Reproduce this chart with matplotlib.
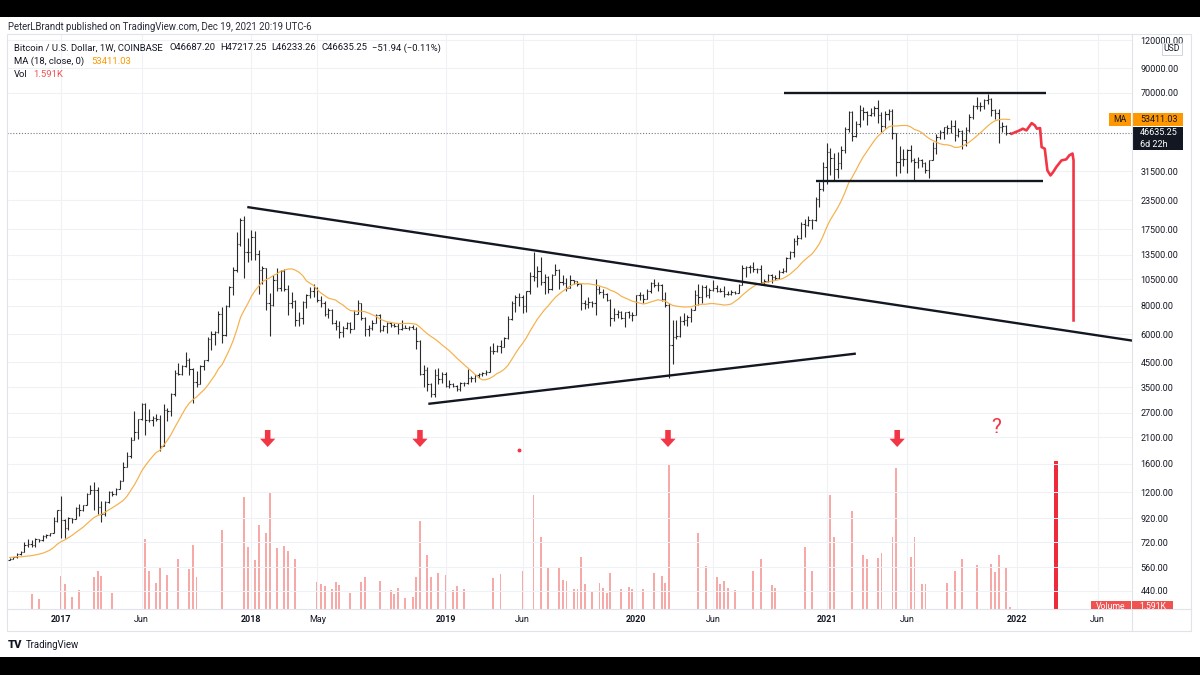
import numpy as np
import pandas as pd
import matplotlib
matplotlib.use("Agg")
import matplotlib.pyplot as plt
import matplotlib.dates as mdates
from matplotlib.patches import Rectangle
from matplotlib.ticker import FixedLocator, FuncFormatter, NullLocator

plt.rcParams['font.family'] = ['Roboto', 'DejaVu Sans']

# ------------------------------------------------------------------ data
# Weekly BTC/USD (Coinbase) bars, first bar = week of 2016-09-26 (Monday open)
first_week = '2016-09-26'
# 17 weekly closes before the first visible bar (for MA 18 warm-up)
warmup_close = [575, 580, 690, 640, 665, 650, 660, 655, 650, 600, 590, 575,
                575, 575, 605, 605, 603]

close = [
    # 2016 Q4
    610, 617, 640, 655, 700, 705, 700, 745, 735, 765, 775, 790, 895, 1000,
    # 2017
    905, 830, 920, 915, 1020, 1000, 1050, 1180, 1230, 1225,
    1030, 965, 1090, 1200, 1180, 1240, 1350, 1550, 1730, 2050,
    2210, 2520, 2950, 2510, 2500, 2550, 2520, 1930, 2760, 2740,
    3250, 4050, 4000, 4350, 4600, 4200, 3700, 3600, 4360, 4600,
    5700, 6000, 6150, 7400, 5950, 8000, 9750, 11500, 15000, 19100,
    13900, 13800,
    # 2018
    16200, 13600, 11550, 11750, 8200, 8100, 10400, 9600, 11400, 9550,
    8200, 8450, 6950, 7050, 8300, 8900, 9350, 9650, 8500, 8250,
    7350, 7650, 6700, 6550, 6150, 6380, 6700, 6350, 7400, 8200,
    7050, 6300, 6400, 6700, 7300, 6250, 6500, 6700, 6600, 6550,
    6300, 6400, 6380, 6450, 6350, 5600, 4000, 4150, 3600, 3250,
    3950, 3800, 4000,
    # 2019
    3550, 3600, 3550, 3420, 3650, 3640, 3830, 3850, 3950, 4000,
    4020, 4100, 5050, 5030, 5300, 5250, 5750, 7000, 8200, 8750,
    8800, 8000, 9300, 10800, 10750, 11450, 10200, 10750, 9500, 11000,
    11500, 10200, 10100, 9600, 10400, 10300, 10000, 8200, 8150, 8300,
    8200, 9550, 9200, 9050, 8500, 7100, 7400, 7500, 7100, 7500,
    7320, 7300,
    # 2020
    8900, 8950, 8600, 9350, 10150, 9900, 9950, 8550, 8050, 5350,
    5850, 5900, 6850, 6900, 7150, 7700, 8900, 8720, 9700, 8900,
    9450, 9650, 9350, 9300, 9000, 8990, 9250, 9160, 9950, 11800,
    11900, 11950, 11650, 11700, 10250, 10300, 10950, 10700, 10650, 11350,
    11400, 13100, 13800, 15500, 16050, 18400, 18200, 19150, 19100, 23800,
    26250, 33000,
    # 2021
    38200, 36000, 32300, 34300, 39200, 48600, 57500, 45200, 51200, 59000,
    57500, 55800, 57000, 60000, 56200, 50100, 56600, 58200, 46400, 34700,
    35700, 35800, 39000, 35500, 34700, 35300, 34250, 31800, 35400, 39800,
    44600, 47000, 49300, 48800, 49900, 45700, 47300, 43300, 48200, 54900,
    61500, 61000, 61300, 64900, 65500, 59000, 57300, 49400, 50100, 46687.20,
    46635.25,
]

high = [
    612, 620, 645, 660, 720, 745, 740, 750, 745, 775, 780, 795, 935, 1005,
    1150, 910, 930, 925, 1030, 1060, 1055, 1195, 1290, 1330,
    1260, 1100, 1100, 1215, 1220, 1250, 1365, 1640, 1800, 2100,
    2750, 2540, 2980, 2980, 2800, 2600, 2660, 2640, 2950, 2820,
    3290, 4150, 4480, 4400, 4980, 4700, 4250, 4120, 4400, 4620,
    5850, 6180, 6200, 7600, 7900, 8100, 9800, 11850, 17000, 19500,
    19900, 16000,
    17250, 17200, 14100, 12000, 11800, 9100, 10950, 11800, 11500, 11700,
    9950, 9200, 8500, 7500, 8450, 9050, 9750, 9990, 9700, 8850,
    8400, 7800, 7750, 6900, 6850, 6500, 6800, 6800, 7700, 8500,
    8250, 7150, 6600, 6900, 7400, 7400, 6600, 6800, 6800, 6750,
    6700, 6950, 6600, 6500, 6600, 6450, 5650, 4400, 4300, 3650,
    4200, 4250, 4100,
    4100, 3750, 3650, 3570, 3700, 3700, 4200, 3900, 3990, 4020,
    4100, 4150, 5300, 5470, 5400, 5650, 5800, 7250, 8400, 8900,
    9100, 8900, 9350, 11300, 13850, 12000, 13200, 11100, 10800, 11100,
    12300, 11700, 10950, 10600, 10950, 10450, 10350, 10050, 8500, 8750,
    8450, 10500, 9800, 9500, 9100, 8550, 7870, 7650, 7600, 7550,
    7600, 7550,
    8950, 9190, 9000, 9550, 10200, 10500, 10200, 10000, 9200, 8200,
    6950, 6900, 7200, 7450, 7300, 7800, 9450, 10050, 9950, 9850,
    9600, 10400, 9950, 9600, 9800, 9300, 9450, 9280, 10000, 12100,
    12000, 12100, 12480, 11800, 12090, 10500, 11100, 11050, 10950, 11500,
    11750, 13200, 14000, 15950, 16500, 18800, 19480, 19900, 19450, 24300,
    28400, 34800,
    41900, 40100, 37900, 38500, 40900, 49700, 58300, 58000, 52600, 61800,
    60800, 58400, 60200, 61200, 64900, 57600, 58000, 59300, 59500, 46700,
    40800, 39500, 39500, 41300, 36000, 36600, 35900, 34600, 35500, 42300,
    46200, 48100, 49400, 50500, 52900, 52900, 48800, 48000, 49300, 56600,
    62000, 67000, 63700, 65600, 69000, 66300, 59500, 59200, 51900, 50700,
    47217.25,
]

low = [
    600, 605, 614, 630, 650, 685, 690, 690, 725, 730, 755, 770, 790, 890,
    750, 755, 820, 880, 910, 940, 990, 1050, 1175, 1000,
    960, 890, 940, 1080, 1160, 1170, 1240, 1350, 1550, 1700,
    2050, 2070, 2500, 2150, 2450, 2350, 2470, 1830, 1930, 2480,
    2620, 3200, 3950, 3950, 4300, 3970, 2980, 3520, 3600, 4150,
    4550, 5100, 5400, 6100, 5500, 5900, 7900, 8900, 11300, 14800,
    10600, 12500,
    12800, 12800, 9000, 10000, 7700, 5900, 8000, 9300, 9350, 9300,
    7300, 7800, 6550, 6550, 6650, 7850, 8650, 8800, 8350, 7950,
    7250, 7050, 6650, 6250, 5750, 5800, 6300, 6050, 6300, 7400,
    6900, 5900, 5880, 6250, 6700, 6150, 6200, 6100, 6450, 6480,
    6000, 6250, 6360, 6230, 6300, 5150, 3950, 3500, 3350, 3150,
    3150, 3600, 3650,
    3500, 3480, 3500, 3350, 3360, 3550, 3620, 3700, 3680, 3820,
    3920, 3950, 4100, 4920, 5000, 4950, 5250, 5700, 6950, 7500,
    8000, 7450, 7500, 9000, 10300, 9700, 9900, 9050, 9100, 9400,
    11000, 9500, 9850, 9350, 9600, 10000, 9800, 7700, 7750, 7850,
    7900, 7300, 9000, 8700, 8400, 6550, 6850, 7080, 7000, 6450,
    7050, 6850,
    7300, 8500, 8250, 8550, 9150, 9700, 9300, 8450, 7900, 3850,
    4450, 5700, 5850, 6600, 6500, 6800, 7700, 8100, 8200, 8800,
    8650, 9300, 9200, 9200, 8800, 8900, 8950, 9050, 9150, 9950,
    10700, 11200, 11350, 11150, 9900, 9900, 10250, 10150, 10400, 10550,
    11200, 11350, 12900, 13200, 14850, 15800, 16200, 18100, 17600, 19000,
    21850, 25900,
    27700, 30400, 28800, 29300, 32300, 37900, 47000, 43000, 44900, 49300,
    53200, 50400, 55200, 55400, 51600, 47000, 48800, 53200, 43900, 30000,
    31100, 33400, 31000, 34800, 28800, 32700, 32800, 31050, 29300, 35200,
    37700, 43800, 43900, 46300, 46600, 42800, 44800, 39600, 40800, 47100,
    53900, 59500, 58000, 59500, 62300, 55600, 53500, 42000, 46800, 45500,
    46233.26,
]

ma_length = 18
ma_value = 53411.03
vol_label = '1.591K'

# Visible (down-week) volume bars: week index into the bar list, volume in K
vol_week_index = [6, 8, 14, 15, 17, 19, 23, 24, 25, 28, 37, 38, 40, 41, 43, 46,
                  49, 50, 51, 58, 64, 65, 67, 68, 70, 71, 73, 75, 76, 78, 84, 85,
                  86, 88, 89, 90, 93, 96, 97, 101, 104, 105, 106, 108, 110, 111,
                  112, 114, 115, 117, 119, 121, 122, 124, 132, 134, 140, 143, 145,
                  147, 150, 151, 152, 154, 155, 156, 157, 159, 161, 162, 163, 164,
                  167, 169, 170, 173, 176, 178, 179, 180, 188, 190, 193, 194, 195,
                  196, 198, 203, 205, 208, 209, 217, 219, 224, 225, 230, 233, 234,
                  237, 238, 241, 242, 246, 247, 249, 250, 256, 258, 260, 264, 268,
                  269, 270, 272, 273]
vol_k = [11.4, 7.6, 26.0, 19.6, 9.2, 14.8, 25.2, 30.0, 26.0, 12.4, 55.6, 30.0,
         20.4, 33.2, 26.8, 39.6, 31.6, 50.8, 25.2, 62.8, 89.2, 49.2, 38.8, 66.8,
         60.4, 92.4, 48.4, 50.0, 46.0, 39.6, 21.2, 19.6, 18.0, 15.6, 21.2, 18.8,
         12.4, 21.2, 25.2, 22.0, 14.8, 11.6, 16.4, 8.4, 9.2, 25.2, 70.0, 42.8,
         25.2, 28.4, 26.8, 14.8, 18.0, 15.6, 24.4, 27.6, 30.0, 90.8, 57.2, 32.4,
         32.4, 22.8, 22.0, 15.6, 15.6, 41.2, 19.6, 14.0, 20.4, 16.4, 12.4, 28.4,
         15.6, 17.2, 15.6, 15.6, 28.4, 26.0, 20.4, 114.8, 60.4, 34.0, 25.2, 19.6,
         22.0, 16.4, 14.8, 30.0, 39.6, 18.8, 16.4, 49.2, 30.0, 90.8, 57.2, 78.0,
         42.8, 39.6, 40.4, 44.4, 57.2, 112.4, 41.2, 57.2, 19.6, 19.6, 20.4, 30.0,
         39.6, 34.8, 35.6, 29.2, 42.8, 33.2, 1.591]

# Axis ticks
price_ticks = [120000, 90000, 70000, 31500, 23500, 17500, 13500, 10500, 8000,
               6000, 4500, 3500, 2700, 2100, 1600, 1200, 920, 720, 560, 440]
xtick_dates = ['2017-01-02', '2017-06-05', '2018-01-01', '2018-05-07',
               '2019-01-07', '2019-06-03', '2020-01-06', '2020-06-01',
               '2021-01-04', '2021-06-07', '2022-01-03', '2022-06-06']
xtick_labels = ['2017', 'Jun', '2018', 'May', '2019', 'Jun', '2020', 'Jun',
                '2021', 'Jun', '2022', 'Jun']

# Drawings (trend lines, projection, markers)
desc_line_dates = ['2017-12-24', '2022-08-11']
desc_line_prices = [21900, 5620]
asc_line_dates = ['2018-12-05', '2021-03-01']
asc_line_prices = [2951, 4922]
top_line_dates = ['2020-10-14', '2022-02-28']
top_line_prices = [69950, 69950]
bot_line_dates = ['2020-12-14', '2022-02-21']
bot_line_prices = [28580, 28580]
proj_dates = ['2021-12-24', '2022-01-08', '2022-01-14', '2022-01-21', '2022-01-31',
              '2022-02-06', '2022-02-10', '2022-02-16', '2022-02-19', '2022-02-25',
              '2022-03-02', '2022-03-08', '2022-03-13', '2022-03-19', '2022-03-29',
              '2022-04-07', '2022-04-13', '2022-04-19', '2022-04-21', '2022-04-21']
proj_prices = [46240, 47810, 48640, 47810, 51500, 50300, 48640, 48960, 40330,
               39680, 31800, 30220, 31270, 32900, 35220, 35600, 37100, 37770,
               35220, 6900]
proj_vol_date = '2022-03-19'
proj_vol_k = 118
arrow_dates = ['2018-02-01', '2018-11-19', '2020-03-07', '2021-05-19']
arrow_tail_price, arrow_tip_price = 2261, 1901
question_date, question_price = '2021-11-25', 2317
dot_date, dot_price = '2019-05-27', 1844

# ------------------------------------------------------------------ figure
W, H = 1200, 675
fig = plt.figure(figsize=(W / 100, H / 100), dpi=100)
fig.patch.set_facecolor('white')
PL, PR, PT, PB = 7, 1132, 34, 608.5
rect = [PL / W, 1 - PB / H, (PR - PL) / W, (PB - PT) / H]
TXT = '#131722'
BAR = '#2a2a2a'
RED = '#f23645'


def dnum(d):
    return mdates.date2num(pd.to_datetime(d).to_numpy())


weeks = pd.date_range(first_week, periods=len(close), freq='7D')
xw = mdates.date2num(weeks.to_numpy())
close_a = np.array(close, dtype=float)
opens = np.concatenate([[warmup_close[-1]], close_a[:-1]])  # open = prior close
ma = pd.Series(list(warmup_close) + list(close)).rolling(ma_length).mean().to_numpy()[len(warmup_close):]

# volume pane (behind)
ax_v = fig.add_axes(rect)
ax_v.set_axis_off()
ax = fig.add_axes(rect, sharex=ax_v)
ax.patch.set_visible(False)

ax_v.bar(xw[vol_week_index], vol_k, width=3.6, color='#f7a9a7', linewidth=0)
ax_v.bar(dnum(proj_vol_date), proj_vol_k, width=7.5, color='#ee2a3b', linewidth=0)
ax_v.set_ylim(0, 459.6)

# price
ax.set_yscale('log')
tick = 2.6
ax.vlines(xw, low, high, color=BAR, lw=0.8, zorder=3)
ax.hlines(opens, xw - tick, xw, color=BAR, lw=0.8, zorder=3)
ax.hlines(close_a, xw, xw + tick, color=BAR, lw=0.8, zorder=3)
ax.plot(xw, ma, color='#f6b04a', lw=0.85, zorder=3)
ax.axhline(close[-1], color='#787b86', lw=0.8, ls=(0, (1, 1.6)), zorder=2)

for dts, prs in [(desc_line_dates, desc_line_prices), (asc_line_dates, asc_line_prices),
                 (top_line_dates, top_line_prices), (bot_line_dates, bot_line_prices)]:
    ax.plot(dnum(dts), prs, color=TXT, lw=1.7, solid_capstyle='butt', zorder=4)
ax.plot(dnum(proj_dates), proj_prices, color=RED, lw=1.9, zorder=4,
        solid_joinstyle='round')

for d in arrow_dates:
    xd = dnum(d)
    ax.annotate('', xy=(xd, arrow_tip_price), xytext=(xd, arrow_tail_price),
                arrowprops=dict(arrowstyle='simple,head_length=0.6,head_width=1.1,tail_width=0.4',
                                fc=RED, ec=RED, lw=0, mutation_scale=10,
                                shrinkA=0, shrinkB=0), zorder=5)
ax.text(dnum(question_date), question_price, '?', color=RED, fontsize=15,
        ha='center', va='center', zorder=5)
ax.plot(dnum(dot_date), dot_price, 'o', ms=1.8, color=RED, zorder=5)

ax.set_xlim(dnum('2016-09-20 20:00'), dnum('2022-08-10 17:00'))
ax.set_ylim(367.0, 127620)
ax.yaxis.set_major_locator(FixedLocator(price_ticks))
ax.yaxis.set_minor_locator(NullLocator())
ax.yaxis.set_major_formatter(FuncFormatter(lambda v, p: f'{v:.2f}'))
ax.yaxis.tick_right()
ax.tick_params(axis='y', which='both', length=0, pad=6.3, labelsize=6.5, labelcolor=TXT)
ax.set_xticks(dnum(xtick_dates))
ax.set_xticklabels(xtick_labels)
ax.tick_params(axis='x', length=0, pad=4.6, labelsize=6.5, labelcolor=TXT)
for lbl in ax.get_xticklabels():
    if lbl.get_text().isdigit():
        lbl.set_fontweight('bold')
ax.grid(True, color='#eef1f6', lw=0.75)
ax.set_axisbelow(True)
for s in ax.spines.values():
    s.set_visible(False)

# ------------------------------------------------------------------ overlay chrome
ov = fig.add_axes([0, 0, 1, 1], zorder=5)
ov.set_xlim(0, W)
ov.set_ylim(H, 0)
ov.set_axis_off()
ov.add_patch(Rectangle((0, 0), W, 17, fc='black', ec='none'))
ov.add_patch(Rectangle((0, 657), W, 18, fc='black', ec='none'))
ov.text(8, 26.6, 'PeterLBrandt published on TradingView.com, Dec 19, 2021 20:19 UTC-6',
        fontsize=6.95, color='#2a2e39', va='center')
ov.add_patch(Rectangle((7, 34), 1184, 597, fill=False, ec='#e0e3eb', lw=0.8))
ov.plot([7, 1191], [PB, PB], color='#e0e3eb', lw=0.8)
ov.plot([PR, PR], [34, 631], color='#e0e3eb', lw=0.8)

# legend
LY = [48, 61.5, 74.5]
LFS = 6.8
ov.text(14, LY[0], 'Bitcoin / U.S. Dollar, 1W, COINBASE', fontsize=LFS, color=TXT, va='center')
for xx, s in [(170, 'O46687.20'), (220.5, 'H47217.25'), (271, 'L46233.26'),
              (321.5, 'C46635.25'), (372, '\u221251.94 (\u22120.11%)')]:
    ov.text(xx, LY[0], s, fontsize=LFS, color=TXT, va='center')
ov.text(14, LY[1], 'MA (18, close, 0)', fontsize=LFS, color=TXT, va='center')
ov.text(91, LY[1], f'{ma_value:.2f}', fontsize=LFS, color='#ff9800', va='center')
ov.text(14, LY[2], 'Vol', fontsize=LFS, color=TXT, va='center')
ov.text(33, LY[2], vol_label, fontsize=LFS, color='#ef5350', va='center')


def py(val):
    return H - ax.transData.transform((xw[-1], val))[1]


yma = py(ma_value)
ov.add_patch(Rectangle((1109, yma - 6.5), 22, 13, fc='#ff9800', ec='none'))
ov.text(1120, yma, 'MA', fontsize=6.2, color=TXT, ha='center', va='center')
ov.add_patch(Rectangle((1132, yma - 6.5), 51, 13, fc='#ff9800', ec='none'))
ov.text(1140, yma, f'{ma_value:.2f}', fontsize=6.5, color=TXT, va='center')
yp = py(close[-1])
ov.add_patch(Rectangle((1132, yp - 6), 51, 23.5, fc=TXT, ec='none'))
ov.text(1140, yp, f'{close[-1]:.2f}', fontsize=6.5, color='white', va='center')
ov.text(1140, yp + 11.3, '6d 22h', fontsize=6.5, color='white', va='center')
ov.add_patch(Rectangle((1161.5, 42.5), 20.5, 12.5, fc='white', ec='#d1d4dc', lw=0.7))
ov.text(1171.7, 48.8, 'USD', fontsize=6.2, color=TXT, ha='center', va='center')

# TradingView logo
ov.text(8, 644.5, 'TV', fontsize=8, fontweight='black', color=TXT, va='center')
ov.text(26, 644.5, 'TradingView', fontsize=6.9, color=TXT, va='center')

# volume label boxes (clipped by the pane bottom)
cl = fig.add_axes([PL / W, 1 - PB / H, (1191 - PL) / W, (PB - PT) / H], zorder=6)
cl.set_xlim(PL, 1191)
cl.set_ylim(PB, PT)
cl.set_axis_off()
yv = H - ax_v.transData.transform((xw[-1], vol_k[-1]))[1]
cl.add_patch(Rectangle((1091, yv - 5.5), 40, 11, fc='#ef5350', ec='none'))
cl.add_patch(Rectangle((1132, yv - 5.5), 41, 11, fc='#ef5350', ec='none'))
cl.text(1111, yv, 'Volume', fontsize=6.2, color='white', ha='center', va='center', clip_on=True)
cl.text(1152.5, yv, vol_label, fontsize=6.2, color='white', ha='center', va='center', clip_on=True)

fig.savefig('out.png', dpi=100, facecolor='white')
